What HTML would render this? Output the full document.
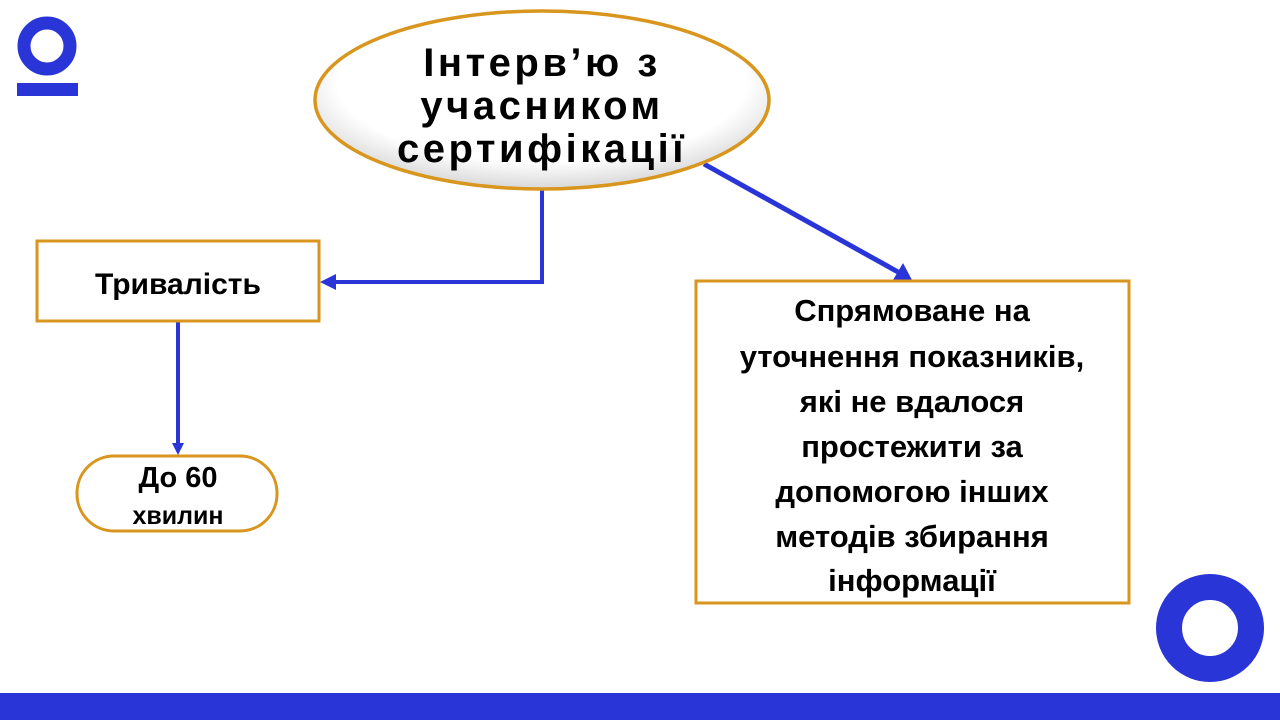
<!DOCTYPE html>
<html><head><meta charset="utf-8">
<style>
html,body{margin:0;padding:0;background:#fff;width:1280px;height:720px;overflow:hidden}
svg{display:block}
text{font-family:"Liberation Sans","DejaVu Sans",sans-serif;font-weight:bold;fill:#000;text-anchor:middle}
</style></head><body>
<svg width="1280" height="720" viewBox="0 0 1280 720" xmlns="http://www.w3.org/2000/svg">
<defs>
<radialGradient id="eg" cx="50%" cy="40%" r="60%">
<stop offset="0.75" stop-color="#fff"/><stop offset="1" stop-color="#d8d8d8"/>
</radialGradient>
<marker id="ah" markerWidth="12" markerHeight="14" refX="6" refY="12" orient="0" markerUnits="userSpaceOnUse">
<path d="M0,0 L12,0 L6,12 z" fill="#2a35d8"/>
</marker>
</defs>
<!-- logo top-left -->
<circle cx="47" cy="46" r="23" fill="none" stroke="#2a35d8" stroke-width="13"/>
<rect x="17" y="83" width="61" height="13" fill="#2a35d8"/>
<!-- ring bottom-right -->
<circle cx="1210" cy="628" r="41" fill="none" stroke="#2a35d8" stroke-width="26"/>
<!-- bottom bar -->
<rect x="0" y="693" width="1280" height="27" fill="#2a35d8"/>

<!-- connectors -->
<polyline points="542,190 542,282 334,282" fill="none" stroke="#2a35d8" stroke-width="4"/>
<path d="M320,282 L336,274 L336,290 z" fill="#2a35d8"/>
<line x1="178" y1="322" x2="178" y2="444" stroke="#2a35d8" stroke-width="4"/>
<path d="M172,443 L184,443 L178,455 z" fill="#2a35d8"/>
<line x1="704" y1="164" x2="898" y2="272" stroke="#2a35d8" stroke-width="5"/>
<path d="M912,280 L893,280 L903,263 z" fill="#2a35d8"/>

<!-- ellipse -->
<ellipse cx="542" cy="100" rx="227" ry="89" fill="url(#eg)" stroke="#d8961e" stroke-width="3.5"/>
<text x="542" y="76" font-size="40" letter-spacing="3.5">Інтерв’ю з</text>
<text x="542" y="119" font-size="40" letter-spacing="3.5">учасником</text>
<text x="542" y="162" font-size="40" letter-spacing="3.5">сертифікації</text>

<!-- Тривалість box -->
<rect x="37" y="241" width="282" height="80" fill="#fff" stroke="#d8961e" stroke-width="3"/>
<text x="178" y="294" font-size="30">Тривалість</text>

<!-- pill -->
<rect x="77" y="456" width="200" height="75" rx="37" fill="#fff" stroke="#d8961e" stroke-width="3"/>
<text x="178" y="487" font-size="29">До 60</text>
<text x="178" y="524" font-size="25">хвилин</text>

<!-- right box -->
<rect x="696" y="281" width="433" height="322" fill="#fff" stroke="#d8961e" stroke-width="3"/>
<g font-size="31">
<text x="912" y="321">Спрямоване на</text>
<text x="912" y="367">уточнення показників,</text>
<text x="912" y="412">які не вдалося</text>
<text x="912" y="457">простежити за</text>
<text x="912" y="502">допомогою інших</text>
<text x="912" y="547">методів збирання</text>
<text x="912" y="591">інформації</text>
</g>
</svg>
</body></html>
